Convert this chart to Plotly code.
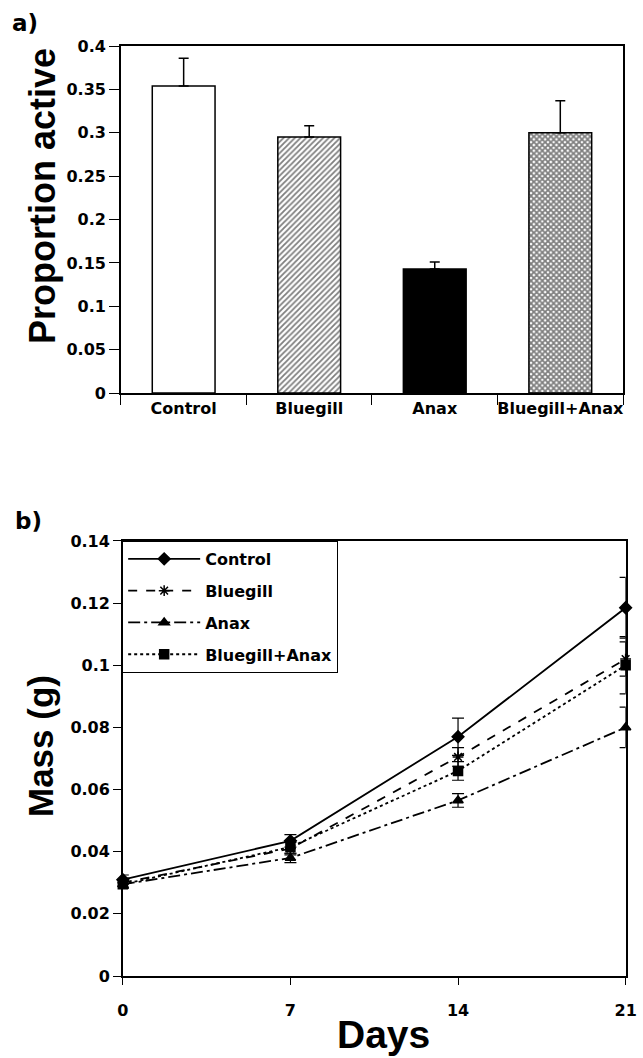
import plotly.graph_objects as go

# ---------- data: panel a ----------
groups = ["Control", "Bluegill", "Anax", "Bluegill+Anax"]
prop_active = [0.354, 0.295, 0.143, 0.300]
prop_err = [0.032, 0.013, 0.008, 0.037]

# ---------- data: panel b ----------
days = [0, 7, 14, 21]
mass_control = [0.031, 0.0435, 0.077, 0.1185]
mass_bluegill = [0.030, 0.041, 0.0705, 0.102]
mass_anax = [0.0295, 0.038, 0.0565, 0.080]
mass_both = [0.0295, 0.0415, 0.066, 0.100]
err_control = [0.0015, 0.002, 0.006, 0.0098]
err_bluegill = [0.0015, 0.002, 0.003, 0.0055]
err_anax = [0.0012, 0.0015, 0.0022, 0.0065]
err_both = [0.0012, 0.002, 0.003, 0.0092]

TICKF = "DejaVu Sans, sans-serif"
TITLEF = "Liberation Sans, Arial, sans-serif"

fig = go.Figure()

bar_styles = [
    dict(color="white", pattern=dict(shape="")),
    dict(color="white", pattern=dict(shape="/", fgcolor="black", bgcolor="white", size=4, solidity=0.45)),
    dict(color="black", pattern=dict(shape="")),
    dict(color="white", pattern=dict(shape="x", fgcolor="black", bgcolor="white", size=4, solidity=0.7)),
]
for g, v, e, st in zip(groups, prop_active, prop_err, bar_styles):
    fig.add_trace(go.Bar(
        x=[g], y=[v], xaxis="x", yaxis="y", showlegend=False,
        marker=dict(color=st["color"], pattern=st["pattern"], line=dict(color="black", width=1.5)),
        error_y=dict(type="data", symmetric=False, array=[e], arrayminus=[0],
                     color="black", thickness=1.5, width=5),
        width=0.5,
    ))

line_specs = [
    ("Control", mass_control, err_control, "solid", "diamond"),
    ("Bluegill", mass_bluegill, err_bluegill, "dash", "asterisk-open"),
    ("Anax", mass_anax, err_anax, "12px,4px,3px,4px", "triangle-up"),
    ("Bluegill+Anax", mass_both, err_both, "dot", "square"),
]
for name, ys, es, dash, sym in line_specs:
    fig.add_trace(go.Scatter(
        x=days, y=ys, xaxis="x2", yaxis="y2", name=name, mode="lines+markers",
        legendgroup=name,
        line=dict(color="black", width=1.8, dash=dash),
        marker=dict(symbol=sym, size=9, color="black", line=dict(color="black", width=1.5)),
        error_y=dict(type="data", array=es, color="black", thickness=1.2, width=6),
        cliponaxis=False,
    ))

axis_common = dict(showline=True, linecolor="black", linewidth=1.5, mirror=True,
                   showgrid=False, zeroline=False, ticks="outside", tickcolor="black",
                   tickwidth=1.2, automargin=False, tickangle=0)
tickfont = dict(family=TICKF, size=16, weight="bold", color="black")

fig.update_layout(
    width=643, height=1058, margin=dict(l=0, r=0, t=0, b=0, autoexpand=False),
    paper_bgcolor="white", plot_bgcolor="white",
    barmode="overlay",
    font=dict(family=TICKF, color="black"),
    xaxis=dict(domain=[0.188, 0.969], anchor="y", type="category",
               categoryorder="array", categoryarray=groups,
               tickson="boundaries", ticklen=10, range=[-0.5, 3.5],
               tickfont=tickfont, **axis_common),
    yaxis=dict(domain=[0.6285, 0.9565], anchor="x", range=[0, 0.4], dtick=0.05,
               ticklen=10, tickfont=tickfont, **axis_common),
    xaxis2=dict(domain=[0.191, 0.973], anchor="y2", range=[0, 21],
                tickvals=days, ticklen=7, ticklabelstandoff=12,
                tickfont=tickfont, **axis_common),
    yaxis2=dict(domain=[0.0775, 0.4887], anchor="x2", range=[0, 0.14], dtick=0.02,
                ticklen=8, tickfont=tickfont, **axis_common),
    legend=dict(x=0.19, y=0.4887, xanchor="left", yanchor="top",
                bordercolor="black", borderwidth=1, bgcolor="white",
                font=dict(family=TICKF, size=16, weight="bold", color="black"),
                tracegroupgap=8, itemwidth=72),
    annotations=[
        dict(text="a)", x=10 / 643, y=1 - 8 / 1058, xref="paper", yref="paper",
             xanchor="left", yanchor="top", showarrow=False,
             font=dict(family=TICKF, size=23, weight="bold")),
        dict(text="b)", x=13 / 643, y=1 - 506 / 1058, xref="paper", yref="paper",
             xanchor="left", yanchor="top", showarrow=False,
             font=dict(family=TICKF, size=23, weight="bold")),
        dict(text="Proportion active", x=42 / 643, y=1 - 196 / 1058,
             xref="paper", yref="paper", xanchor="center", yanchor="middle",
             textangle=-90, showarrow=False,
             font=dict(family=TITLEF, size=36, weight="bold")),
        dict(text="Mass (g)", x=40 / 643, y=1 - 746 / 1058,
             xref="paper", yref="paper", xanchor="center", yanchor="middle",
             textangle=-90, showarrow=False,
             font=dict(family=TITLEF, size=35, weight="bold")),
        dict(text="Days", x=383 / 643, y=0.0, xref="paper", yref="paper",
             xanchor="center", yanchor="bottom", showarrow=False,
             font=dict(family=TITLEF, size=39, weight="bold")),
    ],
)

fig.write_html("out.html")
